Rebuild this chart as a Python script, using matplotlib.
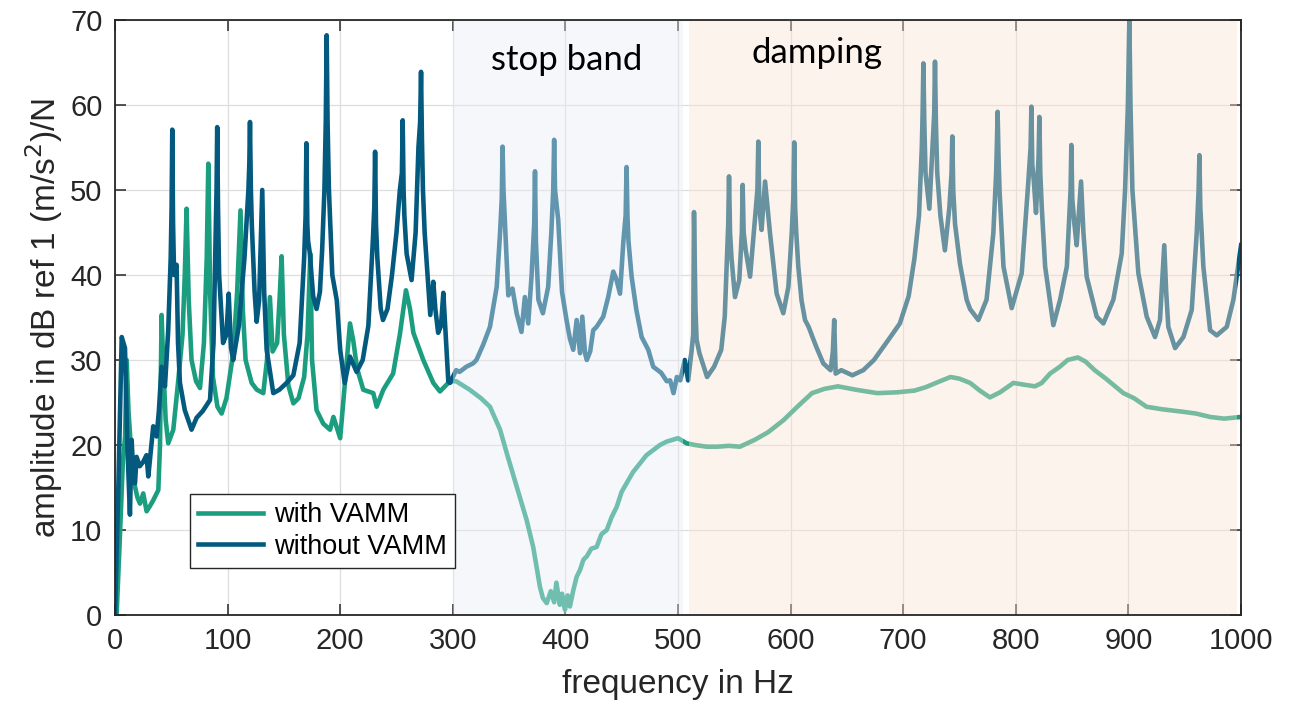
import numpy as np
import matplotlib.pyplot as plt

plt.rcParams['font.family'] = ['Liberation Sans', 'DejaVu Sans']

# without VAMM (frequency in Hz, amplitude in dB)
f_without = [0, 3, 6, 8.9, 11, 13.3, 14.8, 16.5, 17.8, 19.2, 22, 25, 28, 29.6, 32, 34, 37, 39,
             41.4, 44.4, 47.3, 49.5, 50.3, 50.9, 51.6, 52.5, 54.7, 56, 57.7, 62, 68, 72.5, 78,
             84.4, 87.5, 89.5, 90.2, 90.8, 91.5, 92.5, 96, 99, 101, 103, 105, 110, 115, 118.5,
             119.3, 119.9, 120.7, 121.5, 124, 125.8, 128, 130.8, 132.5, 134.7, 140.6, 146,
             152.4, 158.4, 164, 168, 169.3, 170, 170.8, 171.5, 173, 176, 179, 182, 184, 186,
             187.2, 188, 188.8, 190, 193, 197, 200, 204, 208.7, 214.6, 220, 225, 229, 230.3,
             231, 231.8, 233, 236, 238, 242, 246, 250, 253, 254.8, 255.5, 256.3, 257, 259,
             263.4, 267, 269.5, 271, 271.8, 272.6, 273.5, 275, 280, 282.7, 284.5, 287, 289.5,
             291.6, 294, 296, 297.5, 303, 306, 312, 318, 321, 327, 333, 339, 342, 343.5, 344.2,
             345, 346, 347.8, 349.3, 353, 356.7, 361, 364, 367, 370, 372.3, 373, 373.8, 376,
             380, 384.7, 387.5, 389.2, 390, 390.8, 393.6, 397, 401, 404, 407, 410, 413, 415,
             417.4, 419, 422, 424.7, 427.7, 433.6, 438, 442.5, 445, 448.5, 451.5, 453.5, 454.3,
             455.1, 456, 458.8, 463, 467.7, 473.6, 478, 485, 490, 493, 496, 499, 502, 506, 509,
             512, 513.5, 514.2, 515.5, 516.5, 519, 525.8, 532, 538.4, 541.5, 543.5, 544.6,
             545.3, 546.2, 547.5, 550.6, 554.4, 556.7, 557.4, 558.3, 560, 564, 568, 570.5,
             571.3, 572.2, 574.2, 577.3, 581.7, 587.6, 593.5, 598, 601, 602.4, 603.2, 604,
             605, 606.8, 609.7, 612.8, 616, 622.6, 629, 635.5, 637.5, 638.7, 640, 645, 654.8,
             664.5, 674, 687, 697, 704.8, 710, 714, 716.5, 717.2, 717.9, 718.7, 719.8, 723.2,
             726, 727.5, 728.2, 729, 730.2, 733, 737, 741, 742.9, 743.6, 744.4, 746, 750.4,
             756.3, 759.3, 766.7, 774, 780, 782.5, 783.1, 783.8, 784.6, 785.5, 789, 796.3,
             805.2, 811, 813.1, 813.8, 814.6, 816, 817.9, 820.2, 820.9, 821.7, 823, 826, 833.3,
             839.3, 845.3, 848.6, 849.3, 850.1, 852, 854, 857.9, 860, 862.9, 871.8, 877.7,
             886.6, 894, 897, 899.5, 900.8, 901.8, 903.5, 908.8, 916.2, 923.6, 928, 931.8,
             933.5, 935.4, 941.4, 948.8, 956.2, 960.6, 962.3, 963, 963.8, 965, 966.5, 972.5,
             978.4, 987.3, 993.2, 1000]
a_without = [0, 15, 32.7, 31.4, 20, 11.8, 20.6, 16, 15.5, 18.6, 17.5, 18, 18.8, 16.3, 19.5,
             22.2, 21, 24, 29.2, 26.9, 33.5, 42, 48, 57.1, 46, 40, 41.2, 32, 27.3, 24.1, 21.8,
             23.2, 24, 25.3, 32, 45, 50, 57.4, 48, 40, 32, 33, 37.8, 31.5, 30, 34, 42, 50, 53,
             58, 50, 46, 38, 34.5, 37, 50, 38, 31.2, 26.1, 26.5, 27.3, 28.2, 32, 42, 47, 55.5,
             46, 44, 42.6, 37.5, 36, 38, 43, 50, 58, 68.2, 58, 50, 40, 37, 31.2, 27.3, 30.4,
             28.6, 30, 34, 44, 48, 54.5, 46, 42, 36, 34.7, 36, 40, 45, 50, 52, 58.2, 50, 47,
             42.5, 39.4, 45, 55, 58, 63.9, 56, 50, 45, 35.3, 39.2, 36, 33.2, 34, 37.9, 32.3,
             27.5, 27.3, 28.8, 28.6, 29.2, 29.6, 30, 31.8, 33.9, 38.6, 45, 49, 55.1, 50, 47,
             41.8, 37.6, 38.4, 35.5, 33.3, 37.4, 34.3, 40, 46, 52.2, 44, 37.1, 35.5, 38.6, 45,
             50, 55.9, 50, 46.5, 38, 34.7, 32.5, 31.2, 34.7, 30.8, 35.1, 30.8, 30, 31, 33.5,
             33.9, 35.1, 37.4, 40.4, 39.6, 37.8, 44, 47, 52.7, 47, 44, 39.8, 35.9, 32.7, 31.2,
             29.2, 28.5, 27.5, 27.6, 26.1, 28, 27.6, 30, 27.6, 31, 33, 47.4, 36, 32.4, 30.8,
             28, 29.2, 31.2, 35.1, 42, 46, 51.6, 45, 42, 37.4, 39.4, 45, 50.6, 45, 43, 39.8,
             46, 50, 55.7, 48, 45.3, 51, 44.9, 37.8, 35.5, 38.6, 45, 49, 55.6, 48, 45, 41, 37,
             34.7, 33.9, 31.6, 29.6, 28.8, 31, 34.7, 28.4, 28.8, 28.2, 28.8, 30, 32.4, 34.3,
             37.5, 42, 47, 55, 59, 64.9, 58, 52, 47.8, 55, 59, 65.1, 58, 52, 47, 42.9, 48, 52,
             56.3, 50, 46, 41.3, 37.1, 36, 34.7, 37.1, 44.9, 52, 55, 59.2, 54, 50, 41, 36.1,
             40.2, 50.8, 55, 59.8, 53, 51, 47.3, 54, 58.6, 52, 48, 41, 34.1, 37.1, 41, 50, 55.3,
             49, 46, 43.5, 51, 45, 39.8, 35.1, 34.3, 37.1, 42.5, 50, 60, 70.2, 60, 50, 40.2,
             35.1, 32.7, 34.7, 43.5, 38, 33.9, 31.4, 32.7, 35.9, 44.9, 50, 54.1, 48, 45, 41,
             33.5, 32.9, 33.9, 37.1, 43.5]

# with VAMM
f_with = [0, 1.5, 4, 7, 9, 10.4, 12, 13.3, 15, 17.8, 20, 22.2, 25.1, 28.1, 31, 34, 38.5, 40, 41.4,
          43, 45, 47.3, 51.8, 56, 60, 62, 63.6, 65.5, 68, 72, 75.5, 79, 81.5, 82.9, 84.5, 87, 91,
          94.7, 99, 105, 108.5, 111.5, 113.5, 116, 121.4, 126, 131.7, 135, 137.6, 140, 144,
          146.5, 148, 150, 154, 158.4, 163, 168, 171, 173.5, 175, 179, 185, 191, 194, 200, 204,
          208.7, 211.6, 215, 220.5, 229.4, 232.4, 238.3, 247, 253, 258.4, 262, 265, 273.8,
          282.7, 288.6, 296, 299, 303, 309, 315, 325, 333, 342, 348, 356.7, 365.5, 371.4,
          377.4, 380, 383.4, 387, 390, 392, 395, 397, 399.6, 402, 404, 407, 410, 413, 416, 419,
          423, 427.7, 432, 436.7, 441, 445.5, 450, 454.3, 460, 466, 472, 478, 484, 490, 500,
          507.6, 515, 525.4, 535, 545, 555, 568, 580, 593.5, 606, 619, 630, 642, 658, 677, 695,
          710, 720, 729, 742, 750, 759.4, 768, 777, 786, 797.8, 807, 817, 823, 830.4, 839, 846,
          855, 862, 870, 880, 895.5, 905, 916, 930, 948.8, 960, 972.5, 985, 1000]
a_with = [0, 0.2, 8, 18, 21, 30, 24, 21.4, 17.5, 15.1, 13.8, 13.1, 14.3, 12.2, 12.8, 13.5, 14.7,
          20, 35.3, 29.2, 23, 20.2, 21.8, 27.3, 33, 40, 47.8, 37, 30, 27.5, 26.7, 32, 42, 53.1,
          38, 28, 24.5, 23.7, 25.5, 30.8, 38, 47.6, 36, 30, 27.3, 26.5, 26.1, 30, 37.4, 31, 32,
          38, 42.2, 33, 27, 24.9, 25.5, 28, 33, 42.5, 30, 24.1, 22.5, 21.8, 23.3, 20.8, 27,
          34.3, 32.3, 29, 26.5, 26.1, 24.5, 26.5, 28.4, 33, 38.2, 36, 33.2, 30, 27.3, 26.3,
          27.3, 27.5, 27.5, 27, 26.5, 25.5, 24.5, 21.8, 19, 15.1, 11.2, 8, 3.3, 2, 1.4, 2.8,
          1.5, 3.8, 1.2, 2.5, 0.6, 2.3, 1, 2.9, 4.5, 5.3, 6.5, 6.9, 7.8, 8, 9.5, 10, 11.5,
          12.7, 14.5, 15.5, 16.8, 17.8, 18.8, 19.4, 20, 20.4, 20.8, 20.2, 20, 19.8, 19.8, 19.9,
          19.8, 20.6, 21.5, 22.9, 24.5, 26.1, 26.6, 26.9, 26.5, 26.1, 26.2, 26.4, 26.8, 27.3,
          28, 27.8, 27.3, 26.4, 25.6, 26.2, 27.3, 27.1, 26.9, 27.3, 28.4, 29.2, 30, 30.3, 29.8,
          28.8, 27.8, 26.1, 25.5, 24.5, 24.2, 23.9, 23.7, 23.3, 23.1, 23.3]

stop_band = [300, 504]
damping = [510, 996]

c_with = '#1b9e7f'
c_without = '#045a7e'

fig = plt.figure(figsize=(12.99, 7.01), dpi=100)
ax = fig.add_axes([0.0885, 0.1227, 0.8669, 0.8488])

ax.plot(f_with, a_with, color=c_with, lw=3.3, label='with VAMM', zorder=2)
ax.plot(f_without, a_without, color=c_without, lw=3.3, label='without VAMM', zorder=2)

# shaded regions lie on top of the curves, as in the original figure
ax.axvspan(stop_band[0], stop_band[1], color=(233/255, 236/255, 245/255), alpha=0.41, lw=0, zorder=3)
ax.axvspan(damping[0], damping[1], color=(250/255, 228/255, 209/255), alpha=0.41, lw=0, zorder=3)

ax.text(401, 64.1, 'stop band', family='Lato', fontsize=25, ha='center', va='baseline', zorder=5)
ax.text(623, 64.9, 'damping', family='Lato', fontsize=25, ha='center', va='baseline', zorder=5)

ax.set_xlim(0, 1000)
ax.set_ylim(0, 70)
ax.set_xticks(np.arange(0, 1001, 100))
ax.set_yticks(np.arange(0, 71, 10))
ax.grid(True, color='#dedede', lw=0.9)
ax.set_axisbelow(True)
ax.tick_params(direction='in', length=8, width=1.1, color='#262626', labelsize=21,
               labelcolor='#262626', top=True, right=True, pad=9)
for s in ax.spines.values():
    s.set_color('#262626')
    s.set_linewidth(1.3)
    s.set_zorder(6)

ax.set_xlabel('frequency in Hz', fontsize=24, color='#262626', labelpad=10)
ax.set_ylabel('amplitude in dB ref 1 (m/s$^2$)/N', fontsize=24, color='#262626', labelpad=4)

leg = ax.legend(loc='lower left', bbox_to_anchor=(0.0666, 0.079), fontsize=19.5, fancybox=False,
                framealpha=1, edgecolor='#262626', handlelength=2.4, handletextpad=0.4,
                labelspacing=0.2, borderpad=0.3, borderaxespad=0)
leg.get_frame().set_linewidth(1.0)
leg.set_zorder(7)

fig.savefig('out.png', dpi=100)
